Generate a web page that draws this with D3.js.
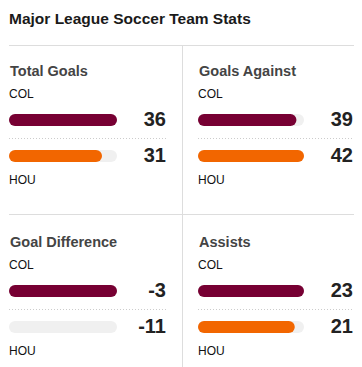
<!DOCTYPE html>
<html>
<head>
<meta charset="utf-8">
<script src="https://cdn.jsdelivr.net/npm/d3@7"></script>
<style>
  body { margin: 0; background: #fff; }
  svg { display: block; font-family: "Liberation Sans", Arial, sans-serif; }
</style>
</head>
<body>
<script>
// chart data
const title = "Major League Soccer Team Stats";
const statNames = ["Total Goals", "Goals Against", "Goal Difference", "Assists"];
const teams = ["COL", "HOU"];
const colValues = [36, 39, -3, 23];
const houValues = [31, 42, -11, 21];

const width = 362, height = 367;
const teamColor = d3.scaleOrdinal().domain(teams).range(["#770033", "#f26600"]);

const svg = d3.select("body").append("svg")
    .attr("width", width)
    .attr("height", height);

svg.append("text")
    .attr("x", 9)
    .attr("y", 24)
    .attr("font-size", 15.5)
    .attr("font-weight", "bold")
    .attr("fill", "#1a1a1a")
    .text(title);

// grid lines
svg.append("line").attr("x1", 9).attr("x2", 354).attr("y1", 45.5).attr("y2", 45.5)
    .attr("stroke", "#ddd");
svg.append("line").attr("x1", 9).attr("x2", 354).attr("y1", 214.5).attr("y2", 214.5)
    .attr("stroke", "#ddd");
svg.append("line").attr("x1", 182.5).attr("x2", 182.5).attr("y1", 45).attr("y2", height)
    .attr("stroke", "#ddd");

// panel layout: left / right column, top / bottom row
const cols = [{x: 9, w: 108, right: 166}, {x: 198, w: 106, right: 353}];
const rows = [0, 171];

statNames.forEach((name, i) => {
  const c = cols[i % 2], dy = rows[Math.floor(i / 2)];
  const vals = [colValues[i], houValues[i]];
  const lo = Math.min(0, d3.min(vals));
  const x = d3.scaleLinear().domain([lo, d3.max(vals)]).range([0, c.w]);

  const g = svg.append("g").attr("transform", `translate(0,${dy})`);

  g.append("text")
      .attr("x", c.x + 1)
      .attr("y", 76)
      .attr("font-size", 14.5)
      .attr("font-weight", "bold")
      .attr("fill", "#444")
      .text(name);

  g.append("text").attr("x", c.x).attr("y", 98)
      .attr("font-size", 12).attr("fill", "#111").text(teams[0]);
  g.append("text").attr("x", c.x).attr("y", 184)
      .attr("font-size", 12).attr("fill", "#111").text(teams[1]);

  g.append("line")
      .attr("x1", c.x).attr("x2", c.right + 1)
      .attr("y1", 138.5).attr("y2", 138.5)
      .attr("stroke", "#ccc")
      .attr("stroke-dasharray", "1,2");

  const barY = [114, 150];
  const bars = g.selectAll("g.bar")
    .data(vals)
    .join("g")
      .attr("class", "bar")
      .attr("transform", (d, j) => `translate(${c.x},${barY[j]})`);

  bars.append("rect")
      .attr("width", c.w)
      .attr("height", 12)
      .attr("rx", 6)
      .attr("fill", "#f0f0f0");

  bars.append("rect")
      .attr("width", d => x(d))
      .attr("height", 12)
      .attr("rx", 6)
      .attr("fill", (d, j) => teamColor(teams[j]));

  bars.append("text")
      .attr("x", c.right - c.x)
      .attr("y", 11.5)
      .attr("text-anchor", "end")
      .attr("font-size", 20)
      .attr("font-weight", "bold")
      .attr("fill", "#222")
      .text(d => d);
});
</script>
</body>
</html>
